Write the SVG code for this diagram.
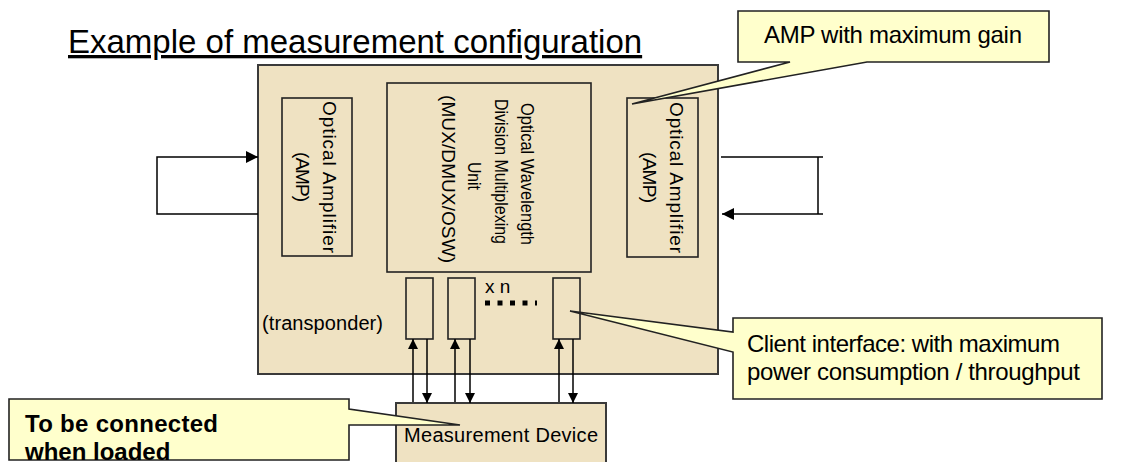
<svg xmlns="http://www.w3.org/2000/svg" width="1147" height="462" viewBox="0 0 1147 462">
<defs>
<marker id="ah" viewBox="0 0 12 12" refX="12" refY="6" markerWidth="12" markerHeight="12" markerUnits="userSpaceOnUse" orient="auto"><path d="M0,0 L12,6 L0,12 Z" fill="#000"/></marker>
<marker id="as" viewBox="0 0 10 10" refX="10" refY="5" markerWidth="10" markerHeight="10" markerUnits="userSpaceOnUse" orient="auto"><path d="M0,0 L10,5 L0,10 Z" fill="#000"/></marker>
<style>
.box{fill:#EFE2C2;stroke:#3a3a3a;stroke-width:2}
.inner{fill:none;stroke:#222;stroke-width:1.6}
.callout{fill:#FFFFCC;stroke:#222;stroke-width:1.6}
.t{font-family:"Liberation Sans",Arial,sans-serif;fill:#000}
.w{fill:none;stroke:#000;stroke-width:1.5}
</style>
</defs>
<rect width="1147" height="462" fill="#fff"/>
<text class="t" x="68" y="53" font-size="33" text-decoration="underline">Example of measurement configuration</text>

<g id="transponder">
<rect class="box" x="258" y="65" width="460" height="309"/>
<text class="t" x="262" y="330" font-size="20" textLength="121">(transponder)</text>
</g>

<g id="amp-left">
<rect class="inner" x="282" y="98" width="70" height="158"/>
<text class="t" font-size="19" text-anchor="middle" transform="translate(323,177) rotate(90)" textLength="152">Optical Amplifier</text>
<text class="t" font-size="19" text-anchor="middle" transform="translate(296,177) rotate(90)" textLength="50">(AMP)</text>
</g>

<g id="mux">
<rect class="inner" x="387" y="83" width="204" height="189"/>
<text class="t" font-size="18" text-anchor="middle" transform="translate(521,174) rotate(90)" textLength="142" lengthAdjust="spacingAndGlyphs">Optical Wavelength</text>
<text class="t" font-size="18" text-anchor="middle" transform="translate(494.5,171.5) rotate(90)" textLength="145" lengthAdjust="spacingAndGlyphs">Division Multiplexing</text>
<text class="t" font-size="18" text-anchor="middle" transform="translate(468,176) rotate(90)" textLength="28" lengthAdjust="spacingAndGlyphs">Unit</text>
<text class="t" font-size="19" text-anchor="middle" transform="translate(442,179) rotate(90)" textLength="168">(MUX/DMUX/OSW)</text>
</g>

<g id="amp-right">
<rect class="inner" x="627" y="98" width="71" height="159"/>
<text class="t" font-size="19" text-anchor="middle" transform="translate(670,177.5) rotate(90)" textLength="151">Optical Amplifier</text>
<text class="t" font-size="19" text-anchor="middle" transform="translate(643,177.5) rotate(90)" textLength="51">(AMP)</text>
</g>

<g id="client-1"><rect class="inner" x="406" y="278" width="27" height="61"/></g>
<g id="client-2"><rect class="inner" x="448" y="278" width="27" height="61"/></g>
<g id="client-n"><rect class="inner" x="553" y="278" width="27" height="61"/></g>
<g id="xn">
<text class="t" x="485" y="293" font-size="19">x n</text>
<line x1="485" y1="303" x2="537" y2="303" stroke="#000" stroke-width="5" stroke-dasharray="5 7.5"/>
</g>

<g id="measurement-device">
<rect class="box" x="396" y="403" width="210" height="70"/>
<text class="t" x="404" y="442" font-size="20" textLength="194">Measurement Device</text>
</g>

<g id="connectors">
<path class="w" d="M258,214 H157 V157 H258" marker-end="url(#ah)"/>
<path class="w" d="M721,157 H823 M818,157 V214"/>
<path class="w" d="M823,214 H722" marker-end="url(#ah)"/>
<line class="w" x1="413" y1="402" x2="413" y2="339" marker-end="url(#as)"/>
<line class="w" x1="427" y1="339" x2="427" y2="403" marker-end="url(#as)"/>
<line class="w" x1="455" y1="402" x2="455" y2="339" marker-end="url(#as)"/>
<line class="w" x1="470" y1="339" x2="470" y2="403" marker-end="url(#as)"/>
<line class="w" x1="559" y1="402" x2="559" y2="339" marker-end="url(#as)"/>
<line class="w" x1="573" y1="339" x2="573" y2="403" marker-end="url(#as)"/>
</g>

<g id="callout-amp">
<path class="callout" d="M738,11 H1049 V62 H867 L632,104 L790,62 H738 Z"/>
<text class="t" x="764" y="43" font-size="24" textLength="258">AMP with maximum gain</text>
</g>

<g id="callout-client">
<path class="callout" d="M733,318 H1102 V399 H733 V352 L570,311 L733,332 Z"/>
<text class="t" x="747" y="352" font-size="24" textLength="313">Client interface: with maximum</text>
<text class="t" x="747" y="380" font-size="24" textLength="333">power consumption / throughput</text>
</g>

<g id="callout-connect">
<path class="callout" d="M9,399 H349 V409 L460,425 L349,425 V460 H9 Z"/>
<text class="t" x="25" y="432" font-size="24" font-weight="bold" textLength="193">To be connected</text>
<text class="t" x="25" y="460" font-size="24" font-weight="bold">when loaded</text>
</g>
</svg>
